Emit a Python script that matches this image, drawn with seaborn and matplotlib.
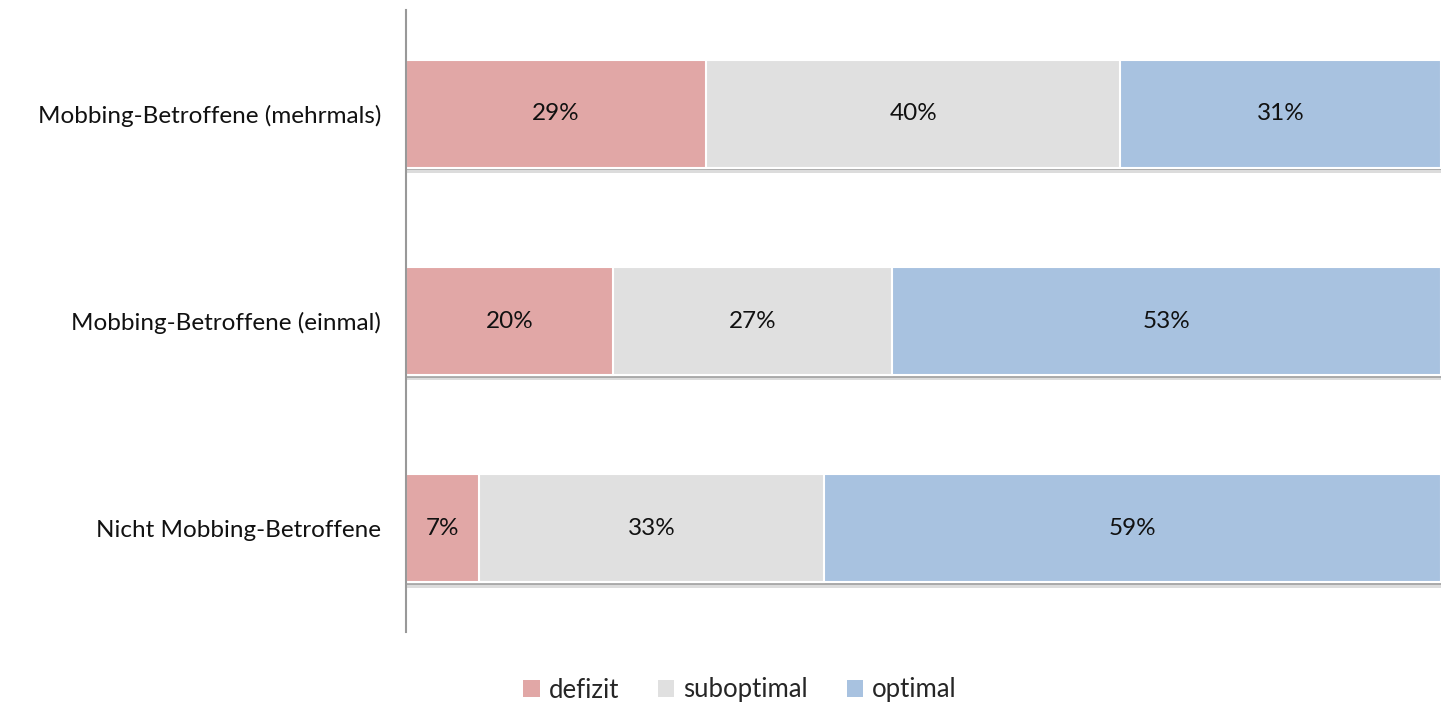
import numpy as np
import pandas as pd
import matplotlib
matplotlib.use("Agg")
import matplotlib.pyplot as plt
import matplotlib.patheffects as pe
from matplotlib.patches import Patch
import seaborn as sns

groups = ["Mobbing-Betroffene (mehrmals)",
          "Mobbing-Betroffene (einmal)",
          "Nicht Mobbing-Betroffene"]
series = ["defizit", "suboptimal", "optimal"]
defizit = [29, 20, 7]
suboptimal = [40, 27, 33]
optimal = [31, 53, 59]
colors = ["#E1A7A6", "#E0E0E0", "#A8C2E0"]

sns.set_theme(style="white")
plt.rcParams["font.family"] = ["Lato", "DejaVu Sans"]

df = pd.DataFrame({"group": groups, "defizit": defizit,
                   "suboptimal": suboptimal, "optimal": optimal})
totals = df[series].sum(axis=1)
# 100% stacked: share of each row
share = df[series].div(totals, axis=0) * 100
cum = share.cumsum(axis=1)
df_plot = pd.concat([df[["group"]], cum.add_prefix("cum_")], axis=1)

fig = plt.figure(figsize=(14.41, 7.07), dpi=100)
ax = fig.add_axes([406 / 1441, 75 / 707, 1 - 406 / 1441, 622 / 707])

# soft drop shadow below each bar
shadow = [pe.SimplePatchShadow(offset=(0, -4), shadow_rgbFace="#bbbbbb", alpha=0.5),
          pe.SimplePatchShadow(offset=(0, -2), shadow_rgbFace="#888888", alpha=0.6),
          pe.Normal()]

# draw from the widest cumulative bar down so the segments stack
for i in reversed(range(len(series))):
    sns.barplot(data=df_plot, y="group", x="cum_" + series[i], order=groups,
                color=colors[i], saturation=1, width=0.52, orient="h",
                edgecolor="white", linewidth=1.5, ax=ax)

for p in ax.patches[:len(groups)]:
    p.set_path_effects(shadow)

for r in range(len(groups)):
    left = 0
    for s in series:
        w = share.loc[r, s]
        ax.text(left + w / 2, r, f"{df.loc[r, s]}%", ha="center", va="center",
                fontsize=17.5, color="#111111")
        left += w

ax.set_xlim(0, 100)
ax.set_ylim(2.5, -0.5)
ax.set_xlabel("")
ax.set_ylabel("")
ax.set_xticks([])
ax.tick_params(axis="y", length=0, pad=18, labelsize=17.5, labelcolor="#111111")
for side in ["top", "right", "bottom"]:
    ax.spines[side].set_visible(False)
ax.spines["left"].set_color("#999999")
ax.spines["left"].set_linewidth(1.5)

handles = [Patch(facecolor=c, edgecolor="none", label=s) for s, c in zip(series, colors)]
fig.legend(handles=handles, loc="center", bbox_to_anchor=(740 / 1441, 1 - 690 / 707),
           ncol=3, frameon=False, fontsize=18.5, handlelength=0.65, handleheight=0.65,
           handletextpad=0.35, columnspacing=1.5)

fig.savefig("out.png", dpi=100, facecolor="white")
